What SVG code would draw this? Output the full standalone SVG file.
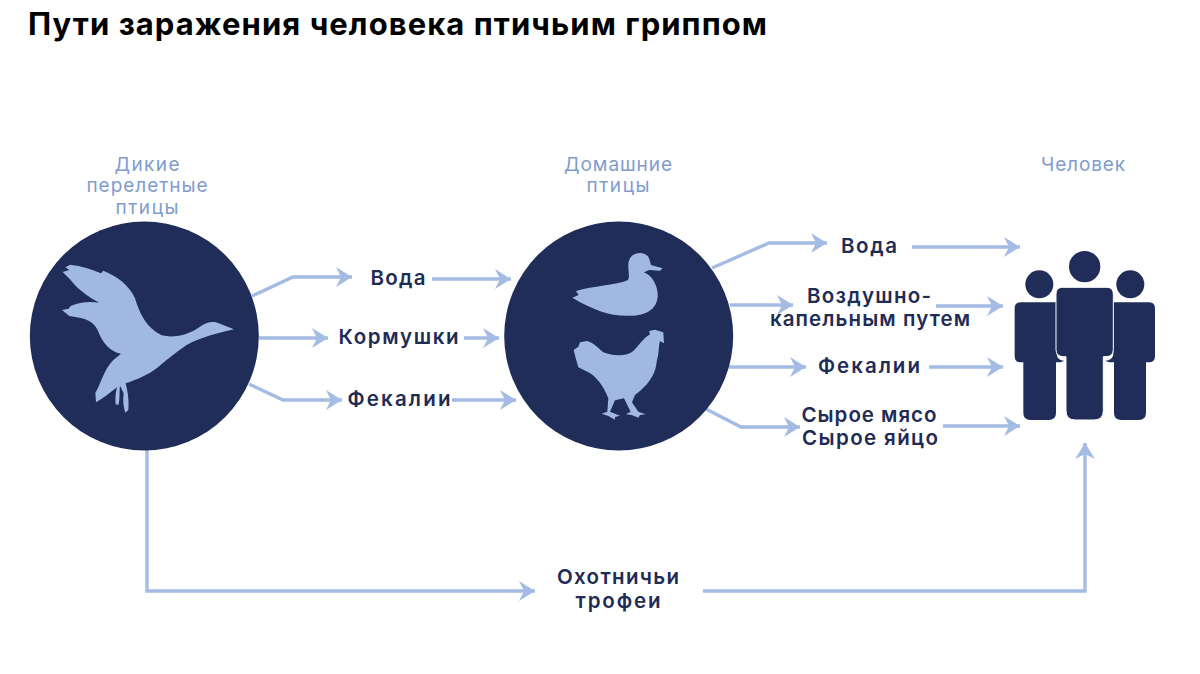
<svg xmlns="http://www.w3.org/2000/svg" width="1200" height="674" viewBox="0 0 1200 674">
<style>
text{font-family:Inter,"Noto Sans",sans-serif;text-anchor:middle}
.title{font-size:31px;font-weight:700;fill:#000;text-anchor:start}
.head{font-size:19px;font-weight:400;fill:#7f9ccf}
.lab{font-size:20.500px;font-weight:600;fill:#1f2c56}
.conn{fill:none;stroke:#a4bbe3;stroke-width:3.4;marker-end:url(#arr)}
.dark{fill:#1f2d58}
.light{fill:#a0b8e2}
.body{fill:#1f2d58;stroke:#fff;stroke-width:3}
</style>
<defs>
<marker id="arr" markerUnits="userSpaceOnUse" markerWidth="20" markerHeight="22" refX="16" refY="10" orient="auto">
<path d="M0 0 L16 10 L0 20 L5 10 Z" fill="#a4bbe3"/>
</marker>
</defs>
<rect width="1200" height="674" fill="#fff"/>
<text class="title" x="28" y="35" textLength="739">Пути заражения человека птичьим гриппом</text>
<g id="connectors">
<path class="conn" d="M252 296 L293 277 L352 277"/>
<path class="conn" d="M259 338 L328 338"/>
<path class="conn" d="M249 384 L283 400 L342 400"/>
<path class="conn" d="M432 279 L511 279"/>
<path class="conn" d="M464 338 L499 338"/>
<path class="conn" d="M452 400 L516 400"/>
<path class="conn" d="M712 268 L769 243 L827 243"/>
<path class="conn" d="M730 305 L793 305"/>
<path class="conn" d="M729 367 L806 367"/>
<path class="conn" d="M706 409 L741 427 L800 427"/>
<path class="conn" d="M912 247 L1020 247"/>
<path class="conn" d="M936 306 L1003 306"/>
<path class="conn" d="M929 367 L1003 367"/>
<path class="conn" d="M943 426 L1020 426"/>
<path class="conn" d="M147 450 L147 591 L535 591"/>
<path class="conn" d="M703 591 L1085 591 L1085 443"/>
</g>
<g id="wild-birds">
<circle class="dark" cx="144.3" cy="336" r="114.500"/>
<path class="light" transform="translate(20 210) scale(.3333)" d="M136 172 L150 164 C185 168 215 178 243 190 L250 182 C290 198 328 225 345 265 C358 310 380 355 425 376 C465 386 510 372 540 350 C558 336 582 332 600 341 L642 358 C600 368 545 380 500 405 C470 425 440 450 412 473 C385 495 350 508 317 520 C322 540 328 570 325 600 L316 608 C310 590 308 570 311 550 L300 527 C298 545 300 570 295 585 L287 583 C285 565 287 545 291 532 C270 548 250 566 228 577 L226 548 C242 525 250 480 280 450 L303 431 C270 425 250 400 238 372 C228 342 205 326 170 322 L148 318 L126 300 L146 296 L152 288 C178 276 208 274 238 278 C205 262 170 235 150 208 L128 186 L148 180 Z"/>
<text class="head" x="147" y="171" textLength="65">Дикие</text>
<text class="head" x="147" y="192" textLength="121">перелетные</text>
<text class="head" x="147" y="214" textLength="63">птицы</text>
</g>
<g id="poultry">
<circle class="dark" cx="618.7" cy="336" r="114.500"/>
<g class="light" transform="translate(500 215) scale(.3333)">
<path d="M217 248 L236 240 L228 228 C280 212 345 212 384 195 C392 180 378 150 390 130 C402 108 440 108 448 132 L453 150 L488 160 L480 167 L448 165 L432 172 C458 182 475 215 473 245 C470 282 440 302 390 302 C330 304 280 285 217 248Z"/>
<path d="M221 405 L235 395 L240 382 L262 378 C282 384 296 400 310 412 C340 424 380 425 400 408 C420 388 432 368 450 358 L447 348 L465 344 L490 352 L492 385 L480 378 C475 395 478 415 470 440 C466 490 430 520 405 540 L396 562 L415 590 L437 598 L420 600 L415 608 L395 600 L378 598 L392 590 L372 550 L345 556 L330 590 L360 602 L345 606 L345 614 L325 603 L305 596 L322 590 L325 550 C310 510 285 482 265 472 L235 457 L226 425 Z"/>
</g>
<text class="head" x="618" y="171" textLength="108">Домашние</text>
<text class="head" x="618" y="192" textLength="63">птицы</text>
</g>
<g id="human">
<g transform="translate(1000 240) scale(.3333)">
<circle class="dark" cx="118" cy="133" r="42"/>
<circle class="dark" cx="391" cy="133" r="42"/>
<circle class="dark" cx="254" cy="80" r="47"/>
<path class="dark" d="M62 187 H170 V340 C170 355 180 362 192 362 C185 367 175 367 168 367 V518 Q168 540 146 540 H92 Q70 540 70 518 V367 H62 Q44 367 44 349 V205 Q44 187 62 187Z"/>
<path class="dark" d="M447 187 H340 V340 C340 355 330 362 316 362 C325 367 335 367 342 367 V518 Q342 540 364 540 H416 Q438 540 438 518 V367 H447 Q465 367 465 349 V205 Q465 187 447 187Z"/>
<path class="body" d="M188 142 H320 Q340 142 340 162 V328 Q340 350 318 350 H310 V512 Q310 540 282 540 H226 Q198 540 198 512 V350 H190 Q168 350 168 328 V162 Q168 142 188 142Z"/>
</g>
<text class="head" x="1083" y="171" textLength="84">Человек</text>
</g>
<g id="labels">
<text class="lab" x="398" y="285" textLength="55">Вода</text>
<text class="lab" x="398.500" y="344" textLength="120">Кормушки</text>
<text class="lab" x="399" y="406" textLength="103">Фекалии</text>
<text class="lab" x="869" y="253" textLength="56">Вода</text>
<text class="lab" x="869" y="303" textLength="124">Воздушно-</text>
<text class="lab" x="870" y="326" textLength="200">капельным путем</text>
<text class="lab" x="869" y="373" textLength="102">Фекалии</text>
<text class="lab" x="869" y="422" textLength="135">Сырое мясо</text>
<text class="lab" x="870" y="445" textLength="136">Сырое яйцо</text>
<text class="lab" x="618" y="584" textLength="122">Охотничьи</text>
<text class="lab" x="618" y="608" textLength="85">трофеи</text>
</g>
</svg>
